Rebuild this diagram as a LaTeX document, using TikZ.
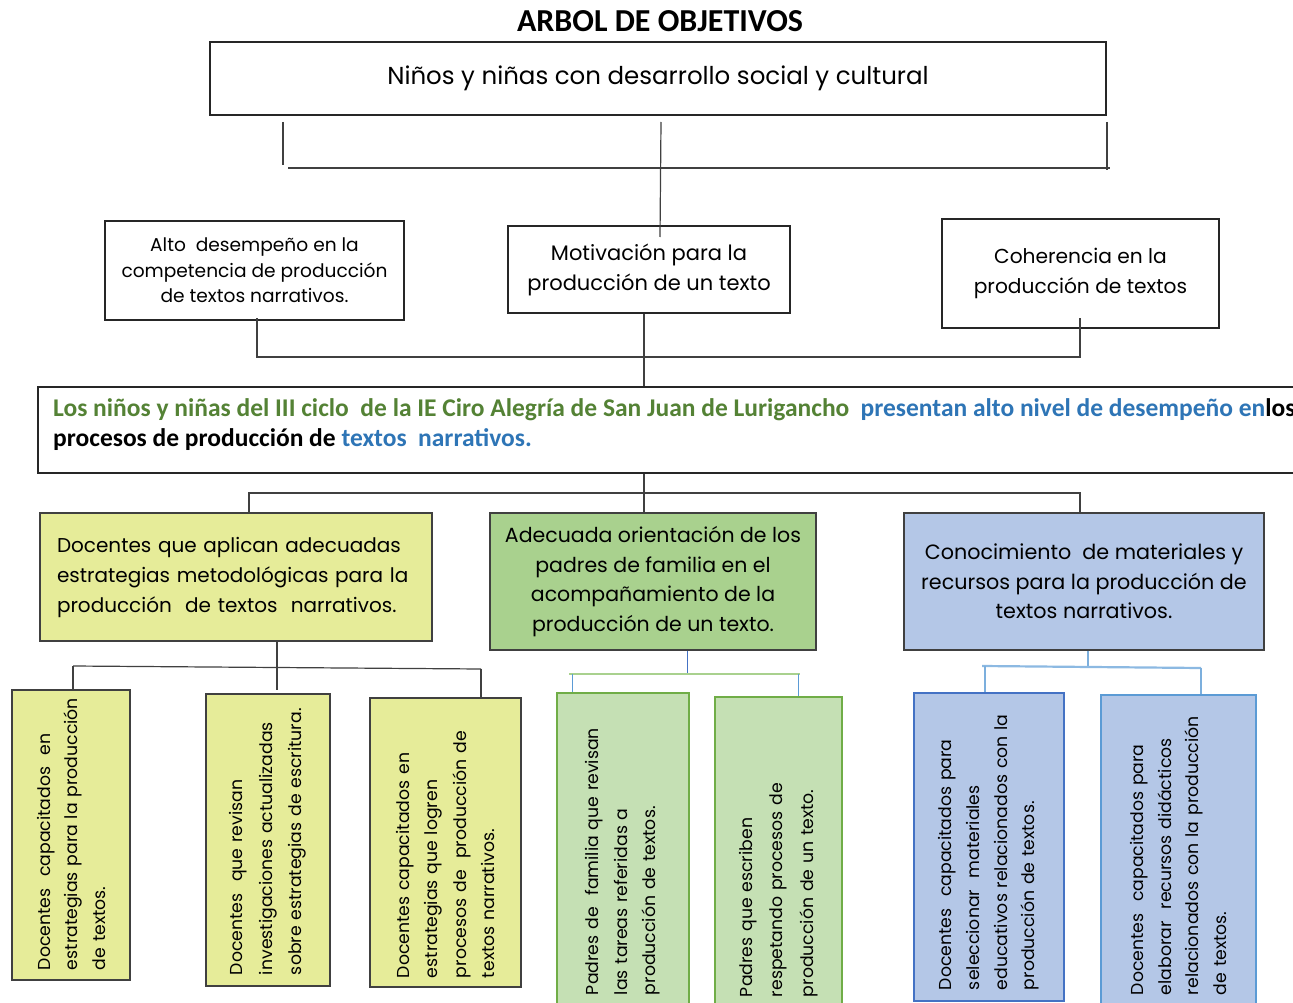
\documentclass[tikz,border=0pt]{standalone}
\usepackage{fontspec}
\setmainfont{Carlito}
\newfontfamily\gothic{Poppins}
\definecolor{lineg}{RGB}{64,64,64}
\definecolor{yel}{RGB}{230,236,153}
\definecolor{grnA}{RGB}{169,209,142}
\definecolor{grnB}{RGB}{197,224,180}
\definecolor{grnE}{RGB}{112,173,71}
\definecolor{blu}{RGB}{180,199,231}
\definecolor{bluE}{RGB}{68,114,196}
\definecolor{bluL}{RGB}{91,155,213}
\definecolor{txtg}{RGB}{84,130,53}
\definecolor{txtb}{RGB}{46,117,182}
\newcommand\gf[2]{\gothic\fontsize{#1}{#2}\selectfont}
\tikzset{
  wbox/.style={draw=black!85, line width=1.2pt, fill=white, inner sep=0pt, align=center},
  cbox/.style={draw=lineg, line width=1.4pt, inner sep=0pt, align=center},
  vbox/.style={draw=lineg, line width=1.4pt, rotate=90, align=left, inner ysep=0pt},
  conn/.style={draw=lineg, line width=1.2pt},
}
\begin{document}
\begin{tikzpicture}[x=1pt,y=-1pt]
\useasboundingbox (0,0) rectangle (1293,1003);
\clip (0,0) rectangle (1293,1003);
\fill[white] (0,0) rectangle (1293,1003);

% title
\node[font={\fontsize{32}{36}\selectfont\bfseries}] (title) at (660,21) {ARBOL DE OBJETIVOS};

% top
\node[wbox, minimum width=896pt, minimum height=73pt, font={\gf{24.5}{28}}] (top) at (658,78.5)
  {\raisebox{-2pt}{Niños y niñas con desarrollo social y cultural}};

% level 2
\node[wbox, minimum width=299pt, minimum height=99pt, font={\gf{18.6}{25.5}}] (A) at (254.5,270.5)
  {Alto\ \ desempeño en la\\competencia de producción\\de textos narrativos.};
\node[wbox, minimum width=282pt, minimum height=87pt, font={\gf{21}{30}}] (B) at (649,269.5)
  {\raisebox{-3pt}{Motivación para la}\\\raisebox{-3pt}{producción de un texto}};
\node[wbox, minimum width=277pt, minimum height=109pt, font={\gf{20.2}{30}}] (C) at (1080.5,273.5)
  {Coherencia en la\\producción de textos};

% goal box
\node[wbox, minimum width=1272pt, minimum height=86pt] (goal) at (674,430) {};
\node[anchor=west, align=left, inner sep=0pt, font={\fontsize{25.5}{30}\selectfont\bfseries}] (goaltxt) at (53,425)
  {\textcolor{txtg}{Los niños y niñas del III ciclo\ \ de la IE Ciro Alegría de San Juan de Lurigancho}\ \ \textcolor{txtb}{presentan alto nivel de desempeño en}los\\
   procesos de producción de \textcolor{txtb}{textos\ \ narrativos.}};

% level 4
\node[cbox, fill=yel, minimum width=392pt, minimum height=128pt, align=left, text width=358pt, font={\gf{20}{30}}] (D) at (236,577)
  {Docentes que aplican adecuadas\\estrategias metodológicas para la\\producción\ \ de textos\ \ narrativos.};
\node[cbox, fill=grnA, minimum width=326pt, minimum height=137pt, font={\gf{20.5}{29.7}}] (E) at (653,581.5)
  {Adecuada orientación de los\\padres de familia en el\\acompañamiento de la\\producción de un texto.};
\node[cbox, fill=blu, minimum width=360pt, minimum height=137pt, font={\gf{20.7}{29.5}}] (F) at (1084,581.5)
  {Conocimiento\ \ de materiales y\\recursos para la producción de\\textos narrativos.};

% level 5 (rotated)
\node[vbox, fill=yel, text width=270pt, inner xsep=10pt, minimum height=118pt, font={\gf{17.3}{27.5}}] (d1) at (71,835)
  {\mbox{Docentes\ \ capacitados\ \ en}\\\mbox{estrategias para la producción}\\\mbox{de textos.}};
\node[vbox, fill=yel, text width=270pt, inner xsep=11pt, minimum height=124pt, font={\gf{17.3}{29.5}}] (d2) at (268,840)
  {\mbox{Docentes\ \ que revisan}\\\mbox{investigaciones actualizadas}\\\mbox{sobre estrategias de escritura.}};
\node[vbox, fill=yel, text width=271pt, inner xsep=9pt, minimum height=151pt, font={\gf{17.3}{28.5}}] (d3) at (445.5,842.5)
  {\mbox{Docentes capacitados en}\\\mbox{estrategias que logren}\\\mbox{procesos de\ \ producción de}\\\mbox{textos narrativos.}};
\node[vbox, fill=grnB, draw=grnE, line width=2.5pt, text width=291pt, inner xsep=11pt, minimum height=132pt, font={\gf{17.3}{28.5}}] (e1) at (623,849.5)
  {\mbox{Padres de\ \ familia que revisan}\\\mbox{las tareas referidas a}\\\mbox{producción de textos.}};
\node[vbox, fill=grnB, draw=grnE, line width=2.5pt, text width=291pt, inner xsep=9pt, minimum height=127pt, font={\gf{17.3}{30.5}}] (e2) at (778.5,851.5)
  {\mbox{Padres que escriben}\\\mbox{respetando procesos de}\\\mbox{producción de un texto.}};
\node[vbox, fill=blu, draw=bluE, line width=2.5pt, text width=286pt, inner xsep=11pt, minimum height=150pt, font={\gf{17.3}{27.7}}] (f1) at (989,847)
  {\mbox{Docentes\ \ capacitados para}\\\mbox{seleccionar\ \ materiales}\\\mbox{educativos relacionados con la}\\\mbox{producción de textos.}};
\node[vbox, fill=blu, draw=bluL, line width=2.5pt, text width=289pt, inner xsep=11pt, minimum height=155pt, font={\gf{17.3}{27.7}}] (f2) at (1178.5,850.5)
  {\mbox{Docentes\ \ capacitados para}\\\mbox{elaborar\ \ recursos didácticos}\\\mbox{relacionados con la producción}\\\mbox{de textos.}};

% connectors top
\coordinate (t1a) at (283,122); \coordinate (t1b) at (283,165);
\coordinate (t2a) at (1107,122); \coordinate (t2b) at (1107,170);
\coordinate (thl) at (288,168); \coordinate (thr) at (1110,168);
\coordinate (tma) at (661,122); \coordinate (tmb) at (660,237);
\draw[conn] (t1a) -- (t1b);
\draw[conn] (t2a) -- (t2b);
\draw[conn] (thl) -- (thr);
\draw[conn] (tma) -- (tmb);

% level2 to goal
\coordinate (ja) at (257,318); \coordinate (jc) at (1080,318);
\coordinate (jb) at (644,357);
\draw[conn] (ja) |- (jb) -| (jc);
\draw[conn] (B.south -| jb) -- (goal.north -| jb);

% goal to level 4
\coordinate (jg) at (644,493);
\coordinate (jD) at (249,493); \coordinate (jF) at (1080,493);
\draw[conn] (goal.south -| jg) -- (E.north -| jg);
\draw[conn] (D.north -| jD) -- (jD) -- (jF) -- (F.north -| jF);

% D children
\coordinate (dm) at (277,667); \coordinate (dl) at (73,666); \coordinate (dr) at (481,669);
\coordinate (dmb) at (277,690);
\draw[conn] (D.south -| dm) -- (dmb);
\draw[conn] (dl) -- (dr);
\draw[conn] (dl) -- (d1.east -| dl);
\draw[conn] (dr) -- (d3.east -| dr);

% E children
\coordinate (em) at (687,674); \coordinate (el) at (572,674); \coordinate (er) at (798,674);
\coordinate (ehl) at (569,674); \coordinate (ehr) at (800,674);
\draw[draw=bluE, line width=1pt] (E.south -| em) -- (em);
\draw[draw=grnA, line width=2.2pt] (ehl) -- (ehr);
\draw[draw=bluL, line width=1pt] (el) -- (e1.east -| el);
\draw[draw=bluL, line width=1pt] (er) -- (e2.east -| er);

% F children
\coordinate (fm) at (1088,667); \coordinate (fl) at (985,666); \coordinate (fr) at (1201,668);
\coordinate (fhl) at (982,666);
\draw[draw=bluL!80, line width=1.2pt] (F.south -| fm) -- (fm);
\draw[draw=bluL!70, line width=2.2pt] (fhl) -- (fr);
\draw[draw=bluL!80, line width=1.2pt] (fl) -- (f1.east -| fl);
\draw[draw=bluL!80, line width=1.2pt] (fr) -- (f2.east -| fr);
\end{tikzpicture}
\end{document}
